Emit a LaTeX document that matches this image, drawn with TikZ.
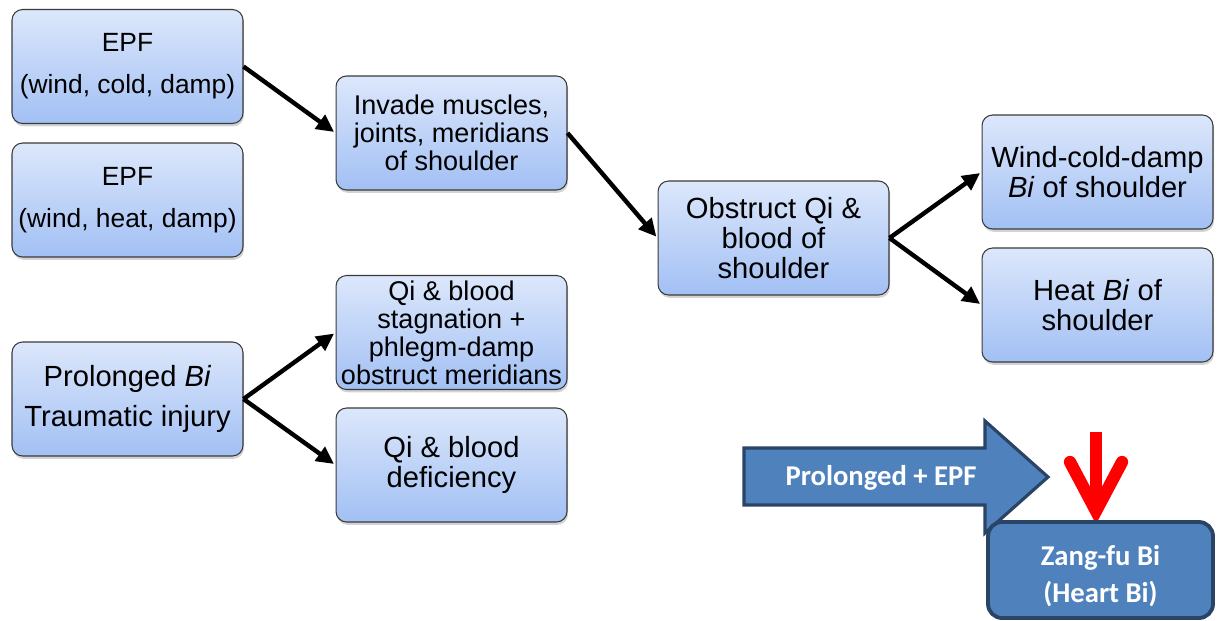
\documentclass[tikz,border=0pt]{standalone}
\usepackage{fontspec}
\setmainfont{Liberation Sans}
\newfontfamily\calibri{Carlito}
\usetikzlibrary{shadows,arrows.meta}
\definecolor{boxtop}{HTML}{DCE7FB}
\definecolor{boxbot}{HTML}{A2C0F4}
\definecolor{boxline}{HTML}{3A3A3A}
\definecolor{accfill}{HTML}{4F81BD}
\definecolor{accline}{HTML}{2A4466}
\definecolor{redarr}{HTML}{FF0000}
\tikzset{
 box/.style={draw=boxline, line width=0.6pt, rounded corners=6pt, top color=boxtop, bottom color=boxbot,
   minimum width=4.62cm, minimum height=2.28cm, align=center, inner sep=2pt,
   drop shadow={shadow xshift=0.6pt, shadow yshift=-1.6pt, opacity=0.35}},
 fsmall/.style={font=\fontsize{15.4}{16}\selectfont},
 flarge/.style={font=\fontsize{16.6}{17}\selectfont},
 flow/.style={line width=2.5pt, -{Triangle[length=10pt,width=9.5pt]}, shorten >=1pt},
 accbox/.style={draw=accline, line width=2.2pt, fill=accfill, rounded corners=8pt},
 acctext/.style={text=white, font=\calibri\bfseries\fontsize{16.3}{21.5}\selectfont, align=center},
}
\begin{document}
\begin{tikzpicture}[x=0.02cm,y=-0.02cm]
\useasboundingbox (0,0) rectangle (1217,620);

\node[box, font=\fontsize{15}{24}\selectfont] (epf1) at (127.5,66.5) {EPF\\(wind, cold, damp)};
\node[box, font=\fontsize{15}{24}\selectfont] (epf2) at (127.5,200) {EPF\\(wind, heat, damp)};
\node[box, fsmall] (invade) at (451.5,133) {Invade muscles,\\joints, meridians\\of shoulder};
\node[box, font=\fontsize{16.6}{22.7}\selectfont] (prol) at (127.5,399) {Prolonged \textit{Bi}\\Traumatic injury};
\node[box, fsmall] (qistag) at (451.5,332.5) {Qi \& blood\\stagnation +\\phlegm-damp\\obstruct meridians};
\node[box, flarge] (qidef) at (451.5,465) {Qi \& blood\\deficiency};
\node[box, flarge] (obst) at (773.5,238) {Obstruct Qi \&\\blood of\\shoulder};
\node[box, flarge] (wcd) at (1097.5,172) {Wind-cold-damp\\\textit{Bi} of shoulder};
\node[box, flarge] (heat) at (1097.5,305) {Heat \textit{Bi} of\\shoulder};

\draw[flow] (epf1.east) -- (invade.west);
\draw[flow] (invade.east) -- (obst.west);
\draw[flow] (obst.east) -- (wcd.west);
\draw[flow] (obst.east) -- (heat.west);
\draw[flow] (prol.east) -- (qistag.west);
\draw[flow] (prol.east) -- (qidef.west);

% block arrow
\draw[accline, line width=1.8pt, fill=accfill, line join=miter]
  (744,448) -- (985,448) -- (985,421) -- (1048,477) -- (985,533) -- (985,505) -- (744,505) -- cycle;
\node[acctext] (prolepf) at (881,478) {Prolonged + EPF};

% red arrow
\coordinate (rtop) at (1096,432);
\coordinate (rtip) at (1096,511);
\draw[redarr, line width=6.5pt] (rtop) -- ([yshift=4pt]rtip);
\draw[redarr, line width=7pt, line cap=round, line join=miter] (1070,462) -- (rtip) -- (1122,462);

% zang-fu box
\node[accbox, minimum width=4.5cm, minimum height=1.92cm] (zang) at (1100.5,570) {};
\node[acctext] (zangtext) at (1100.5,576) {Zang-fu Bi\\(Heart Bi)};
\end{tikzpicture}
\end{document}
